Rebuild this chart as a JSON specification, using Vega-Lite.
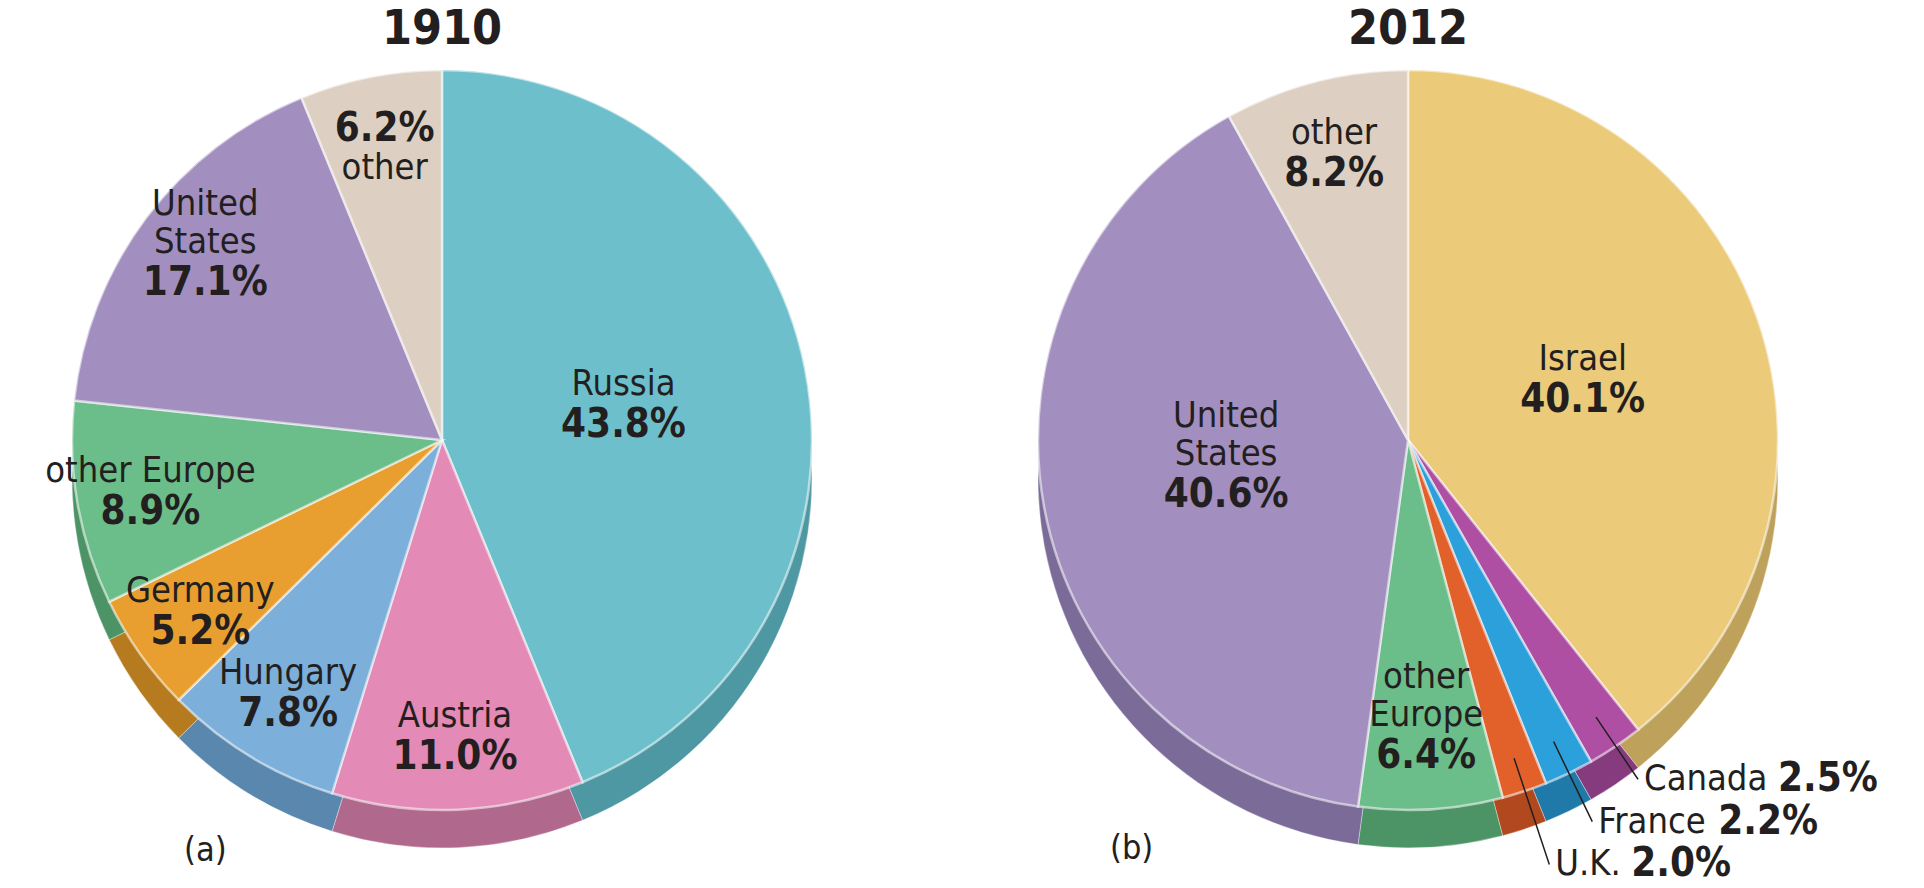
{
  "$schema": "https://vega.github.io/schema/vega-lite/v6.json",
  "background": "white",
  "padding": {"left": 0, "top": 6, "right": 0, "bottom": 0},
  "spacing": 82,
  "datasets": {
    "shares": [
      {"year": 1910, "country": "Russia", "share": 0.438, "rank": 1},
      {"year": 1910, "country": "Austria", "share": 0.110, "rank": 2},
      {"year": 1910, "country": "Hungary", "share": 0.078, "rank": 3},
      {"year": 1910, "country": "Germany", "share": 0.052, "rank": 4},
      {"year": 1910, "country": "other Europe", "share": 0.089, "rank": 5},
      {"year": 1910, "country": "United States", "share": 0.171, "rank": 6},
      {"year": 1910, "country": "other", "share": 0.062, "rank": 7},
      {"year": 2012, "country": "Israel", "share": 0.401, "rank": 1},
      {"year": 2012, "country": "Canada", "share": 0.025, "rank": 2},
      {"year": 2012, "country": "France", "share": 0.022, "rank": 3},
      {"year": 2012, "country": "U.K.", "share": 0.020, "rank": 4},
      {"year": 2012, "country": "other Europe", "share": 0.064, "rank": 5},
      {"year": 2012, "country": "United States", "share": 0.406, "rank": 6},
      {"year": 2012, "country": "other", "share": 0.082, "rank": 7}
    ]
  },
  "hconcat": [
    {
      "title": {"text": "(a)", "orient": "bottom", "anchor": "start", "frame": "group", "dx": 184, "offset": -16, "fontSize": 34, "fontWeight": "normal", "color": "#231f20"},
      "vconcat": [
        {
          "title": {"text": "1910", "frame": "group", "fontSize": 48, "fontWeight": "bold", "color": "#231f20", "offset": 6},
          "width": 884,
          "height": 760,
          "data": {"name": "shares"},
          "transform": [{"filter": "datum.year === 1910"}],
          "encoding": {
            "theta": {"field": "share", "type": "quantitative", "stack": true},
            "order": {"field": "rank", "type": "quantitative"}
          },
          "layer": [
            {
              "mark": {"type": "arc", "outerRadius": 370, "yOffset": 38, "stroke": "#ffffff", "strokeWidth": 1, "strokeOpacity": 0.35},
              "encoding": {
                "fill": {"field": "country", "type": "nominal", "legend": null,
                  "scale": {"domain": ["Russia", "Austria", "Hungary", "Germany", "other Europe", "United States", "other", "Israel", "Canada", "France", "U.K."],
                            "range": ["#4e98a3", "#b0688c", "#5a87ad", "#b67a1f", "#4c9466", "#7b6b98", "#b3a696", "#bea15a", "#853b7e", "#1f7aa9", "#b2481d"]}}
              }
            },
            {
              "mark": {"type": "arc", "outerRadius": 370, "stroke": "#ffffff", "strokeWidth": 2.5, "strokeOpacity": 0.55},
              "encoding": {
                "color": {"field": "country", "type": "nominal", "legend": null,
                  "scale": {"domain": ["Russia", "Austria", "Hungary", "Germany", "other Europe", "United States", "other", "Israel", "Canada", "France", "U.K."],
                            "range": ["#6dbfcb", "#e38ab6", "#7cafda", "#e99f2f", "#6bbd89", "#a28fbf", "#ddd0c2", "#ebca79", "#ae4fa4", "#2ba0da", "#e2612b"]}}
              }
            },
            {
              "mark": {"type": "text", "radius": 296, "baseline": "bottom", "fontSize": 36, "color": "#231f20", "dy": -1},
              "encoding": {"text": {"condition": {"test": "datum.share < 0.3 && datum.country !== 'other' && datum.country !== 'United States'", "field": "country", "type": "nominal"}, "value": ""}}
            },
            {
              "mark": {"type": "text", "radius": 296, "baseline": "bottom", "lineBreak": " ", "lineHeight": 38, "fontSize": 36, "color": "#231f20", "dy": -39},
              "encoding": {"text": {"condition": {"test": "datum.country === 'United States'", "field": "country", "type": "nominal"}, "value": ""}}
            },
            {
              "mark": {"type": "text", "radius": 296, "baseline": "top", "fontSize": 40, "fontWeight": "bold", "color": "#231f20", "dy": 1},
              "encoding": {"text": {"condition": {"test": "datum.share < 0.3 && datum.country !== 'other'", "field": "share", "type": "quantitative", "format": ".1%"}, "value": ""}}
            },
            {
              "mark": {"type": "text", "radius": 296, "baseline": "top", "fontSize": 36, "color": "#231f20", "dy": 1},
              "encoding": {"text": {"condition": {"test": "datum.country === 'other'", "field": "country", "type": "nominal"}, "value": ""}}
            },
            {
              "mark": {"type": "text", "radius": 296, "baseline": "bottom", "fontSize": 40, "fontWeight": "bold", "color": "#231f20", "dy": -1},
              "encoding": {"text": {"condition": {"test": "datum.country === 'other'", "field": "share", "type": "quantitative", "format": ".1%"}, "value": ""}}
            },
            {
              "mark": {"type": "text", "radius": 185, "baseline": "bottom", "fontSize": 36, "color": "#231f20", "dy": -1},
              "encoding": {"text": {"condition": {"test": "datum.share >= 0.3", "field": "country", "type": "nominal"}, "value": ""}}
            },
            {
              "mark": {"type": "text", "radius": 185, "baseline": "top", "fontSize": 40, "fontWeight": "bold", "color": "#231f20", "dy": 1},
              "encoding": {"text": {"condition": {"test": "datum.share >= 0.3", "field": "share", "type": "quantitative", "format": ".1%"}, "value": ""}}
            }
          ]
        }
      ]
    },
    {
      "title": {"text": "(b)", "orient": "bottom", "anchor": "start", "frame": "group", "dx": 144, "offset": -68, "fontSize": 34, "fontWeight": "normal", "color": "#231f20"},
      "vconcat": [
        {
          "title": {"text": "2012", "frame": "group", "fontSize": 48, "fontWeight": "bold", "color": "#231f20", "offset": 6},
          "width": 884,
          "height": 760,
          "data": {"name": "shares"},
          "transform": [{"filter": "datum.year === 2012"}],
          "encoding": {
            "theta": {"field": "share", "type": "quantitative", "stack": true},
            "order": {"field": "rank", "type": "quantitative"}
          },
          "layer": [
            {
              "mark": {"type": "arc", "outerRadius": 370, "yOffset": 38, "stroke": "#ffffff", "strokeWidth": 1, "strokeOpacity": 0.35},
              "encoding": {
                "fill": {"field": "country", "type": "nominal", "legend": null,
                  "scale": {"domain": ["Russia", "Austria", "Hungary", "Germany", "other Europe", "United States", "other", "Israel", "Canada", "France", "U.K."],
                            "range": ["#4e98a3", "#b0688c", "#5a87ad", "#b67a1f", "#4c9466", "#7b6b98", "#b3a696", "#bea15a", "#853b7e", "#1f7aa9", "#b2481d"]}}
              }
            },
            {
              "mark": {"type": "arc", "outerRadius": 370, "stroke": "#ffffff", "strokeWidth": 2.5, "strokeOpacity": 0.55},
              "encoding": {
                "color": {"field": "country", "type": "nominal", "legend": null,
                  "scale": {"domain": ["Russia", "Austria", "Hungary", "Germany", "other Europe", "United States", "other", "Israel", "Canada", "France", "U.K."],
                            "range": ["#6dbfcb", "#e38ab6", "#7cafda", "#e99f2f", "#6bbd89", "#a28fbf", "#ddd0c2", "#ebca79", "#ae4fa4", "#2ba0da", "#e2612b"]}}
              }
            },
            {
              "mark": {"type": "text", "radius": 296, "baseline": "bottom", "fontSize": 36, "color": "#231f20", "dy": -1},
              "encoding": {"text": {"condition": {"test": "datum.country === 'other'", "field": "country", "type": "nominal"}, "value": ""}}
            },
            {
              "mark": {"type": "text", "radius": 296, "baseline": "bottom", "lineBreak": " ", "lineHeight": 38, "fontSize": 36, "color": "#231f20", "dy": -39},
              "encoding": {"text": {"condition": {"test": "datum.country === 'other Europe'", "field": "country", "type": "nominal"}, "value": ""}}
            },
            {
              "mark": {"type": "text", "radius": 296, "baseline": "top", "fontSize": 40, "fontWeight": "bold", "color": "#231f20", "dy": 1},
              "encoding": {"text": {"condition": {"test": "datum.country === 'other' || datum.country === 'other Europe'", "field": "share", "type": "quantitative", "format": ".1%"}, "value": ""}}
            },
            {
              "mark": {"type": "text", "radius": 185, "baseline": "bottom", "fontSize": 36, "color": "#231f20", "dy": -1},
              "encoding": {"text": {"condition": {"test": "datum.country === 'Israel'", "field": "country", "type": "nominal"}, "value": ""}}
            },
            {
              "mark": {"type": "text", "radius": 185, "baseline": "bottom", "lineBreak": " ", "lineHeight": 38, "fontSize": 36, "color": "#231f20", "dy": -39},
              "encoding": {"text": {"condition": {"test": "datum.country === 'United States'", "field": "country", "type": "nominal"}, "value": ""}}
            },
            {
              "mark": {"type": "text", "radius": 185, "baseline": "top", "fontSize": 40, "fontWeight": "bold", "color": "#231f20", "dy": 1},
              "encoding": {"text": {"condition": {"test": "datum.share >= 0.3", "field": "share", "type": "quantitative", "format": ".1%"}, "value": ""}}
            },
            {
              "mark": {"type": "arc", "innerRadius": 250, "outerRadius": 325, "padAngle": 3.1416, "xOffset": 48, "yOffset": 70, "fillOpacity": 0, "stroke": "#231f20", "strokeWidth": 1.5},
              "encoding": {"strokeOpacity": {"condition": {"test": "datum.country === 'Canada'", "value": 1}, "value": 0}}
            },
            {
              "mark": {"type": "arc", "innerRadius": 236, "outerRadius": 325, "padAngle": 3.1416, "xOffset": 43, "yOffset": 89, "fillOpacity": 0, "stroke": "#231f20", "strokeWidth": 1.5},
              "encoding": {"strokeOpacity": {"condition": {"test": "datum.country === 'France'", "value": 1}, "value": 0}}
            },
            {
              "mark": {"type": "arc", "innerRadius": 213, "outerRadius": 325, "padAngle": 3.1416, "xOffset": 39, "yOffset": 116, "fillOpacity": 0, "stroke": "#231f20", "strokeWidth": 1.5},
              "encoding": {"strokeOpacity": {"condition": {"test": "datum.country === 'U.K.'", "value": 1}, "value": 0}}
            },
            {
              "mark": {"type": "text", "radius": 325, "align": "left", "baseline": "middle", "dx": 54, "dy": 70, "fontSize": 36, "color": "#231f20"},
              "encoding": {"text": {"condition": {"test": "datum.country === 'Canada'", "field": "country", "type": "nominal"}, "value": ""}}
            },
            {
              "mark": {"type": "text", "radius": 325, "align": "left", "baseline": "middle", "dx": 188, "dy": 70, "fontSize": 40, "fontWeight": "bold", "color": "#231f20"},
              "encoding": {"text": {"condition": {"test": "datum.country === 'Canada'", "field": "share", "type": "quantitative", "format": ".1%"}, "value": ""}}
            },
            {
              "mark": {"type": "text", "radius": 325, "align": "left", "baseline": "middle", "dx": 49, "dy": 89, "fontSize": 36, "color": "#231f20"},
              "encoding": {"text": {"condition": {"test": "datum.country === 'France'", "field": "country", "type": "nominal"}, "value": ""}}
            },
            {
              "mark": {"type": "text", "radius": 325, "align": "left", "baseline": "middle", "dx": 169, "dy": 89, "fontSize": 40, "fontWeight": "bold", "color": "#231f20"},
              "encoding": {"text": {"condition": {"test": "datum.country === 'France'", "field": "share", "type": "quantitative", "format": ".1%"}, "value": ""}}
            },
            {
              "mark": {"type": "text", "radius": 325, "align": "left", "baseline": "middle", "dx": 45, "dy": 116, "fontSize": 36, "color": "#231f20"},
              "encoding": {"text": {"condition": {"test": "datum.country === 'U.K.'", "field": "country", "type": "nominal"}, "value": ""}}
            },
            {
              "mark": {"type": "text", "radius": 325, "align": "left", "baseline": "middle", "dx": 121, "dy": 116, "fontSize": 40, "fontWeight": "bold", "color": "#231f20"},
              "encoding": {"text": {"condition": {"test": "datum.country === 'U.K.'", "field": "share", "type": "quantitative", "format": ".1%"}, "value": ""}}
            }
          ]
        }
      ]
    }
  ],
  "config": {
    "view": {"stroke": null},
    "font": "'Liberation Sans Narrow', 'DejaVu Sans Condensed', 'Arial Narrow', 'Liberation Sans', sans-serif"
  }
}
